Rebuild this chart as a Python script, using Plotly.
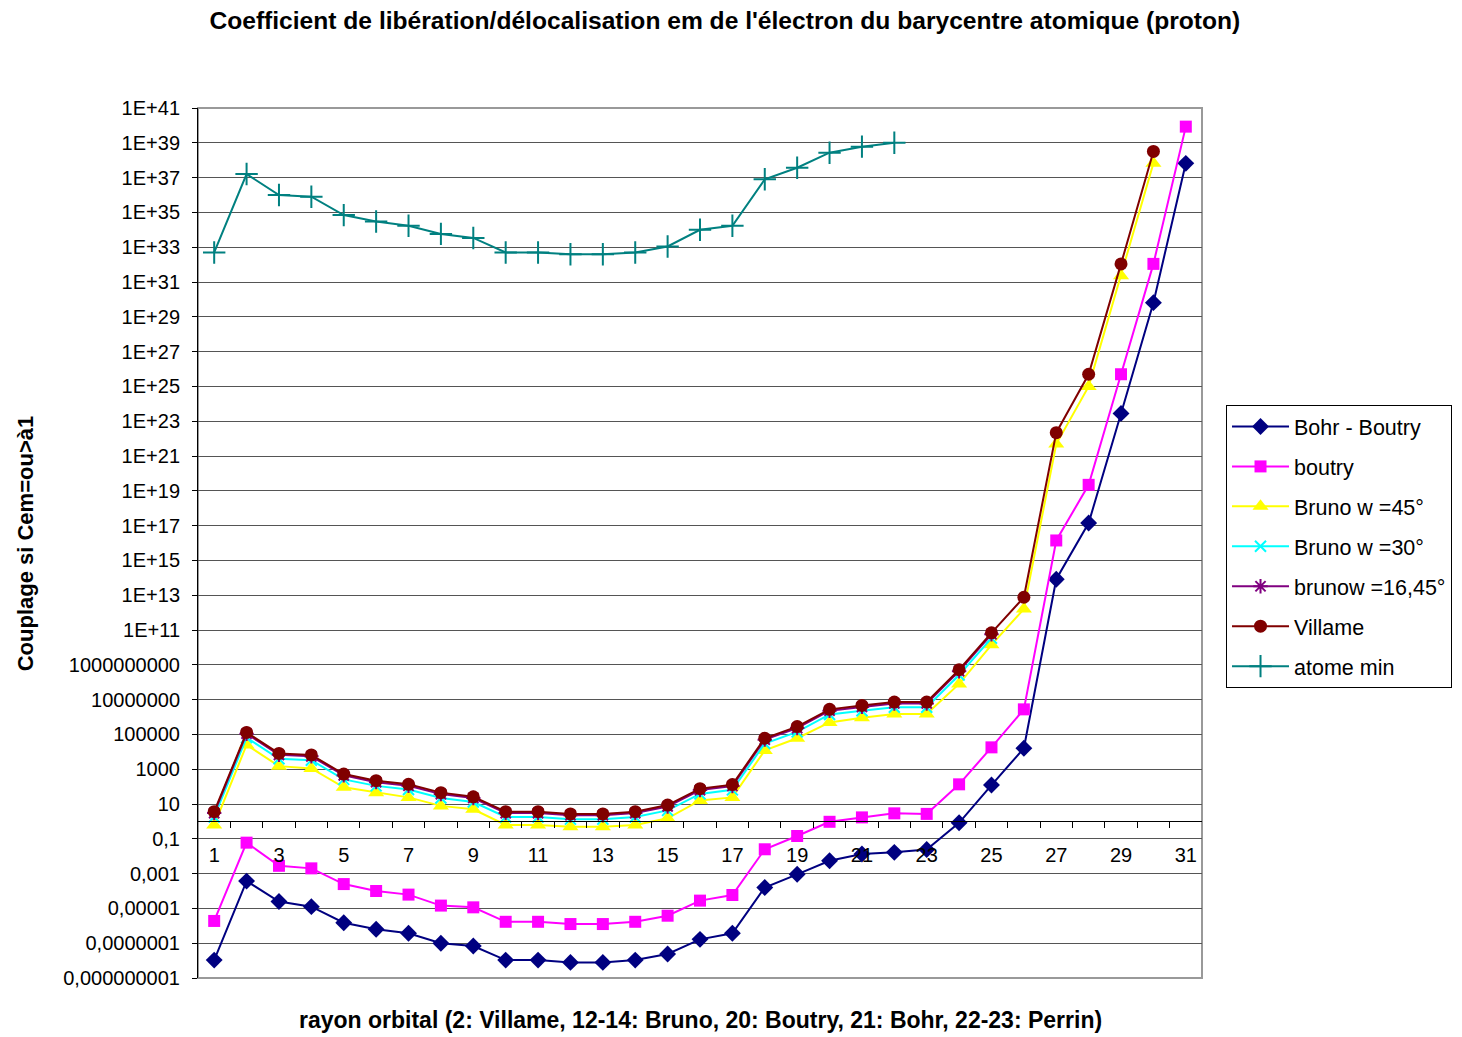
import plotly.graph_objects as go

# ---- data ----
categories = list(range(1, 32))

bohr_boutry = [1.07e-8, 3.7e-4, 2.5e-5, 1.26e-5, 1.5e-6, 6.3e-7, 3.7e-7, 1e-7, 6.9e-8, 1.07e-8,
               1.07e-8, 7.9e-9, 7.9e-9, 1.07e-8, 2.4e-8, 1.66e-7, 3.7e-7, 1.6e-4, 9.1e-4, 5.5e-3,
               0.0135, 0.0166, 0.0245, 0.83, 123, 1.6e4, 8.3e13, 1.4e17, 2.8e23, 6.5e29, 6.6e37]
boutry = [1.9e-6, 0.06, 2.8e-3, 2e-3, 2.5e-4, 1e-4, 6.2e-5, 1.45e-5, 1.15e-5, 1.7e-6,
          1.7e-6, 1.26e-6, 1.26e-6, 1.7e-6, 3.8e-6, 2.8e-5, 5.9e-5, 0.025, 0.145, 0.95,
          1.7, 2.9, 2.7, 135, 1.8e4, 2.75e6, 1.4e16, 2.2e19, 5e25, 1.1e32, 8.5e39]
bruno_45 = [0.62, 2.5e4, 1.5e3, 1.1e3, 91, 45, 24, 7.8, 5, 0.62,
            0.62, 0.5, 0.5, 0.62, 1.5, 16, 24, 1.2e4, 6e4, 4.9e5,
            9.1e5, 1.5e6, 1.5e6, 8e7, 1.4e10, 1.6e12, 4.9e21, 1e25, 2.3e31, 6.6e37]
bruno_30 = [1.8, 6.5e4, 4e3, 3.3e3, 260, 110, 68, 22, 13, 1.8,
            1.8, 1.35, 1.35, 1.8, 4.3, 38, 65, 3e4, 1.4e5, 1.4e6,
            2.3e6, 3.6e6, 3.6e6, 2.6e8, 3.4e10]
bruno_1645 = [3, 1.1e5, 6.7e3, 5.5e3, 440, 180, 112, 37, 22, 3,
              3, 2.25, 2.25, 3, 7.2, 63, 108, 5e4, 2.3e5, 2.3e6,
              3.8e6, 6e6, 6e6, 4.3e8, 5.7e10]
villame = [3.6, 1.3e5, 8.1e3, 6.6e3, 525, 220, 135, 45, 26, 3.6,
           3.6, 2.7, 2.7, 3.6, 8.7, 76, 130, 6e4, 2.8e5, 2.75e6,
           4.6e6, 7.2e6, 7.2e6, 5.2e8, 6.9e10, 7.6e12, 2.2e22, 5e25, 1.1e32, 3.2e38]
atome_min = [5e32, 1.6e37, 1e36, 8e35, 7e34, 3e34, 1.7e34, 5.8e33, 3.4e33, 5e32,
             5e32, 3.9e32, 3.9e32, 5e32, 1.1e33, 1e34, 1.7e34, 8e36, 3.7e37, 2.7e38,
             6e38, 1e39]

series_names = ["Bohr - Boutry", "boutry", "Bruno w =45°", "Bruno w =30°",
                "brunow =16,45°", "Villame", "atome min"]

y_tickvals = [1e-9, 1e-7, 1e-5, 1e-3, 1e-1, 1e1, 1e3, 1e5, 1e7, 1e9, 1e11, 1e13, 1e15,
              1e17, 1e19, 1e21, 1e23, 1e25, 1e27, 1e29, 1e31, 1e33, 1e35, 1e37, 1e39, 1e41]
y_ticktext = ["0,000000001", "0,0000001", "0,00001", "0,001", "0,1", "10", "1000",
              "100000", "10000000", "1000000000", "1E+11", "1E+13", "1E+15", "1E+17",
              "1E+19", "1E+21", "1E+23", "1E+25", "1E+27", "1E+29", "1E+31", "1E+33",
              "1E+35", "1E+37", "1E+39", "1E+41"]
x_tickvals = list(range(1, 32, 2))
x_ticktext = [str(v) for v in x_tickvals]

title_text = "Coefficient de libération/délocalisation em de l'électron du barycentre atomique (proton)"
x_title = "rayon orbital (2: Villame, 12-14: Bruno, 20: Boutry, 21: Bohr, 22-23: Perrin)"
y_title = "Couplage si Cem=ou>à1"

FONT = "Liberation Sans, Arial, sans-serif"

styles = [
    dict(color="#000080", symbol="diamond", size=13),
    dict(color="#FF00FF", symbol="square", size=12),
    dict(color="#FFFF00", symbol="triangle-up", size=14),
    dict(color="#00FFFF", symbol="x-thin", size=11),
    dict(color="#800080", symbol="asterisk", size=12),
    dict(color="#800000", symbol="circle", size=13),
    dict(color="#008080", symbol="cross-thin", size=16),
]
data = [bohr_boutry, boutry, bruno_45, bruno_30, bruno_1645, villame, atome_min]

fig = go.Figure()
for i, (name, vals, st) in enumerate(zip(series_names, data, styles)):
    thin = st["symbol"] in ("x-thin", "asterisk", "cross-thin")
    fig.add_trace(go.Scatter(
        x=categories[:len(vals)], y=vals, name=name, mode="lines+markers",
        legendgroup=f"g{i}",
        line=dict(color=st["color"], width=2),
        marker=dict(symbol=st["symbol"], size=st["size"], color=st["color"],
                    line=dict(color=st["color"], width=2 if thin else 0)),
    ))

boundaries = [c + 0.5 for c in categories[:-1]]

fig.update_layout(
    width=1454, height=1029,
    margin=dict(l=190, r=260, t=100, b=59),
    paper_bgcolor="white", plot_bgcolor="white",
    font=dict(family=FONT, size=20, color="black"),
    title=dict(text=f"<b>{title_text}</b>", x=0.493, xanchor="center",
               y=0.988, yanchor="middle", font=dict(size=24.6)),
    showlegend=True,
    legend=dict(xref="container", yref="container", x=0.8377, xanchor="left",
                y=0.6142, yanchor="top",
                bordercolor="black", borderwidth=1, bgcolor="white",
                font=dict(size=21.5), tracegroupgap=9, itemwidth=57),
    xaxis=dict(range=[0.5, 31.5], anchor="free", position=0.18,
               showline=True, linecolor="black", linewidth=1,
               showgrid=False, zeroline=False,
               tickvals=x_tickvals, ticktext=x_ticktext, ticks="",
               ticklabelstandoff=16,
               minor=dict(tickvals=boundaries, ticks="outside", ticklen=6,
                          tickcolor="black", showgrid=False),
               tickfont=dict(size=20)),
    yaxis=dict(type="log", range=[-9, 41], domain=[0, 1],
               showline=True, linecolor="black", linewidth=1,
               ticks="outside", ticklen=5, tickcolor="black",
               tickvals=y_tickvals, ticktext=y_ticktext,
               ticklabelstandoff=8,
               showgrid=True, gridcolor="#555555", gridwidth=1,
               tickfont=dict(size=20)),
    shapes=[dict(type="rect", xref="paper", yref="paper", x0=0, x1=1, y0=0, y1=1,
                 line=dict(color="#999999", width=2), layer="below")],
    annotations=[
        dict(text=f"<b>{x_title}</b>", xref="paper", yref="paper", x=0.5, y=-0.048,
             xanchor="center", yanchor="middle", showarrow=False, font=dict(size=23)),
        dict(text=f"<b>{y_title}</b>", xref="paper", yref="paper", x=-0.172, y=0.5,
             xanchor="center", yanchor="middle", textangle=-90, showarrow=False,
             font=dict(size=22)),
    ],
)

fig.write_html("out.html")
